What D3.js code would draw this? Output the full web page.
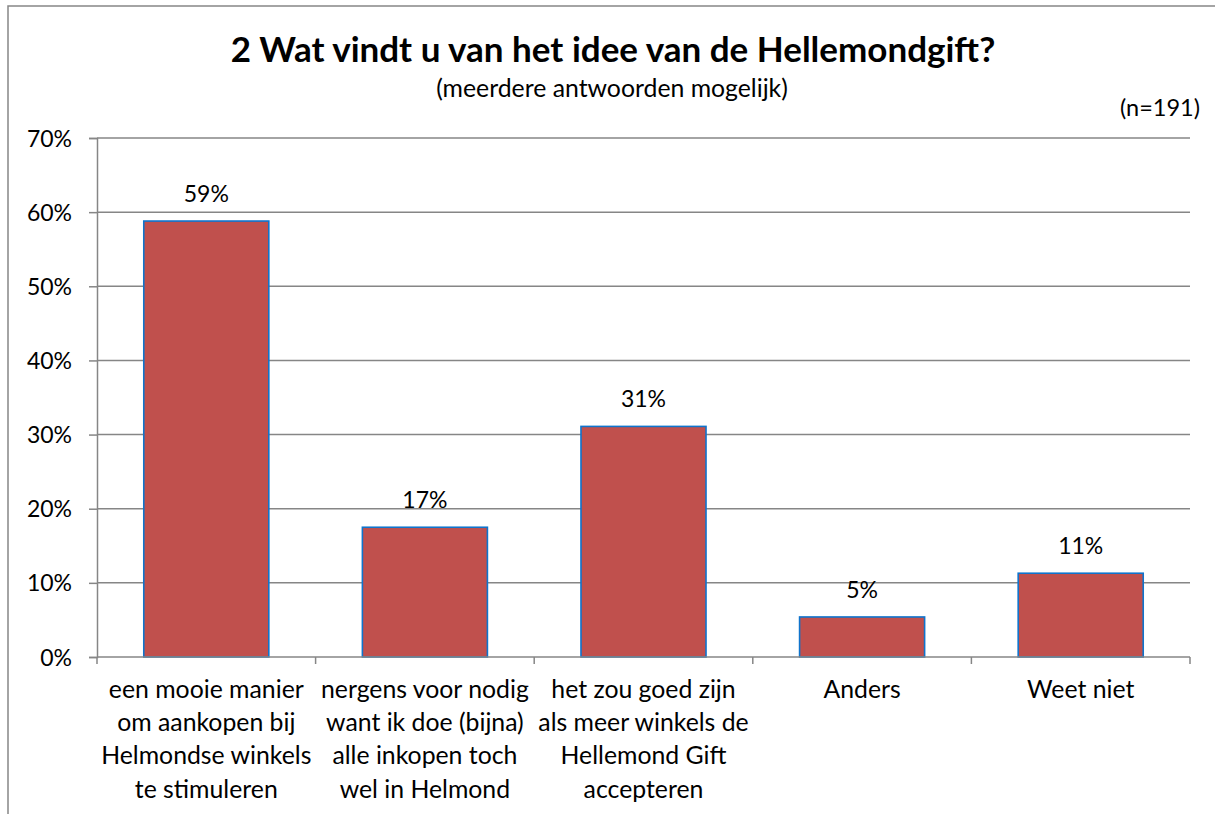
<!DOCTYPE html>
<html>
<head>
<meta charset="utf-8">
<script src="https://cdn.jsdelivr.net/npm/d3@7"></script>
<style>
  html, body { margin: 0; padding: 0; background: #fff; overflow: hidden; }
  svg { display: block; overflow: hidden; }
  text { font-family: Lato, "Open Sans", sans-serif; fill: #000; }
</style>
</head>
<body>
<svg id="chart" width="1215" height="814"></svg>
<script>
const categories = [
  ["een mooie manier", "om aankopen bij", "Helmondse winkels", "te stimuleren"],
  ["nergens voor nodig", "want ik doe (bijna)", "alle inkopen toch", "wel in Helmond"],
  ["het zou goed zijn", "als meer winkels de", "Hellemond Gift", "accepteren"],
  ["Anders"],
  ["Weet niet"]
];
const values = [0.588, 0.175, 0.311, 0.054, 0.113];
const valueLabels = ["59%", "17%", "31%", "5%", "11%"];
const yTicks = [0, 0.1, 0.2, 0.3, 0.4, 0.5, 0.6, 0.7];
const titleText = "2 Wat vindt u van het idee van de Hellemondgift?";
const subtitleText = "(meerdere antwoorden mogelijk)";
const nText = "(n=191)";

(function () {
const svg = d3.select("#chart");
const grey = "#868686";

// outer frame (only top and left edges are visible in the crop)
svg.append("path")
  .attr("d", "M8,814 L8,6 L1215,6")
  .attr("fill", "none").attr("stroke", grey).attr("stroke-width", 1.5);

const pLeft = 97, pRight = 1190, pTop = 138, pBottom = 657;

const x = d3.scaleBand().domain(d3.range(categories.length)).range([pLeft, pRight]).padding(0);
const y = d3.scaleLinear().domain([0, 0.7]).range([pBottom, pTop]);

// gridlines
svg.append("g").selectAll("line").data(yTicks.filter(d => d > 0)).join("line")
  .attr("x1", pLeft).attr("x2", pRight)
  .attr("y1", d => y(d)).attr("y2", d => y(d))
  .attr("stroke", grey).attr("stroke-width", 1.5);

// y axis
const yAxis = svg.append("g").attr("transform", `translate(${pLeft},0)`)
  .call(d3.axisLeft(y).tickValues(yTicks).tickFormat(d3.format(".0%")).tickSize(8).tickPadding(17));
yAxis.select(".domain").attr("stroke", grey).attr("stroke-width", 1.5);
yAxis.selectAll(".tick line").attr("stroke", grey).attr("stroke-width", 1.5);
yAxis.selectAll(".tick text").attr("font-size", 23).attr("font-family", "Lato").attr("fill", "#000").attr("dy", "0.35em");

// bars
const barW = x.bandwidth() * 0.572;
svg.append("g").selectAll("rect").data(values).join("rect")
  .attr("x", (d, i) => x(i) + (x.bandwidth() - barW) / 2)
  .attr("y", d => y(d))
  .attr("width", barW)
  .attr("height", d => y(0) - y(d))
  .attr("fill", "#C0504D")
  .attr("stroke", "#0F74CC")
  .attr("stroke-width", 1.6);

// value labels
svg.append("g").selectAll("text").data(values).join("text")
  .attr("x", (d, i) => x(i) + x.bandwidth() / 2)
  .attr("y", d => y(d) - 19)
  .attr("text-anchor", "middle")
  .attr("font-size", 23)
  .text((d, i) => valueLabels[i]);

// x axis
const xAxisLine = svg.append("g");
xAxisLine.append("line")
  .attr("x1", pLeft).attr("x2", pRight).attr("y1", pBottom).attr("y2", pBottom)
  .attr("stroke", grey).attr("stroke-width", 1.5);
const boundaries = d3.range(categories.length + 1).map(i => pLeft + i * x.step());
xAxisLine.selectAll("line.tk").data(boundaries).join("line").attr("class", "tk")
  .attr("x1", d => d).attr("x2", d => d)
  .attr("y1", pBottom).attr("y2", pBottom + 7)
  .attr("stroke", grey).attr("stroke-width", 1.5);

// category labels
const catG = svg.append("g").selectAll("text").data(categories).join("text")
  .attr("text-anchor", "middle")
  .attr("font-size", 24.8);
catG.each(function(lines, i) {
  const t = d3.select(this);
  lines.forEach((ln, j) => {
    t.append("tspan")
      .attr("x", x(i) + x.bandwidth() / 2)
      .attr("y", 698 + j * 33.2)
      .text(ln);
  });
});

// titles
svg.append("text").attr("x", 613).attr("y", 62).attr("text-anchor", "middle")
  .attr("font-size", 35).attr("font-weight", "bold").text(titleText);
svg.append("text").attr("x", 612).attr("y", 97).attr("text-anchor", "middle")
  .attr("font-size", 24.8).text(subtitleText);
svg.append("text").attr("x", 1200).attr("y", 116).attr("text-anchor", "end")
  .attr("font-size", 23.5).text(nText);
})();
</script>
</body>
</html>
